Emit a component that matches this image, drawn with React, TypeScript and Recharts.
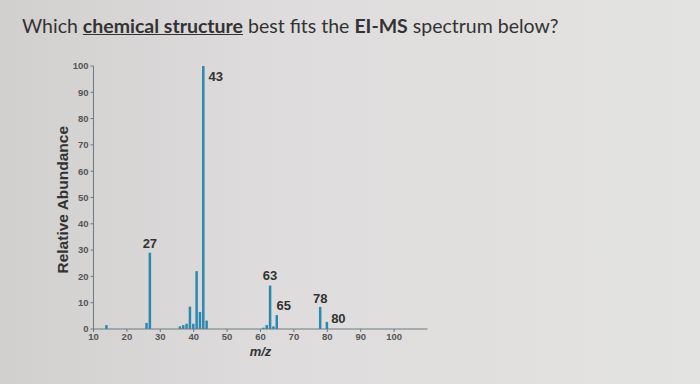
import React from 'react'
import { BarChart, Bar, XAxis, YAxis, LabelList } from 'recharts'

// peaks (m/z, relative abundance)
const MZ = [14, 26, 27, 36, 37, 38, 39, 40, 41, 42, 43, 44, 61, 62, 63, 64, 65, 78, 80]
const ABUNDANCE = [1.5, 2.3, 29, 1, 1.5, 2, 8.5, 2, 22, 6.5, 100, 3.2, 0.5, 1.5, 16.5, 1, 5.3, 8.4, 2.7]
const LABELLED = [27, 43, 63, 65, 78, 80]
const X_TICKS = [10, 20, 30, 40, 50, 60, 70, 80, 90, 100]
const Y_TICKS = [0, 10, 20, 30, 40, 50, 60, 70, 80, 90, 100]

const BAR_COLOR = '#2b88b1'

// where each peak label sits relative to the bar top
const LABEL_PLACE: Record<number, { dx: number; dy: number; anchor: string }> = {
  27: { dx: 0, dy: -5, anchor: 'middle' },
  43: { dx: 4, dy: 15, anchor: 'start' },
  63: { dx: 0, dy: -6, anchor: 'middle' },
  65: { dx: 7, dy: -5, anchor: 'middle' },
  78: { dx: 0, dy: -4, anchor: 'middle' },
  80: { dx: 3, dy: 1, anchor: 'start' }
}

const data = MZ.map((mz, i) => ({ mz, abundance: ABUNDANCE[i] }))

const PeakLabel = (props: any) => {
  const { x, y, width, value } = props
  if (!LABELLED.includes(value)) return null
  const p = LABEL_PLACE[value]
  const cx = p.anchor === 'start' ? x + width : x + width / 2
  return (
    <text
      x={cx + p.dx}
      y={y + p.dy}
      textAnchor={p.anchor}
      fontFamily="Arial, 'Liberation Sans', sans-serif"
      fontWeight={700}
      fontSize={13}
      fill="#333"
    >
      {value}
    </text>
  )
}

const tickStyle = {
  fontSize: 9.5,
  fontWeight: 700,
  fill: '#555',
  fontFamily: "Arial, 'Liberation Sans', sans-serif"
}

export default function App() {
  return (
    <div
      style={{
        position: 'absolute',
        left: 0,
        top: 0,
        width: 700,
        height: 384,
        overflow: 'hidden',
        background: 'linear-gradient(90deg, #d2cfcf 0%, #dedcdc 40%, #e3e3e1 100%)'
      }}
    >
      <div
        style={{
          position: 'absolute',
          left: 22,
          top: 14,
          fontFamily: 'Lato, sans-serif',
          fontSize: 19.5,
          color: '#333',
          whiteSpace: 'nowrap'
        }}
      >
        Which{' '}
        <span style={{ fontWeight: 700, textDecoration: 'underline' }}>chemical structure</span>{' '}
        best fits the <span style={{ fontWeight: 700 }}>EI-MS</span> spectrum below?
      </div>
      <div style={{ position: 'absolute', left: 0, top: 0 }}>
        <BarChart
          width={700}
          height={384}
          data={data}
          margin={{ top: 66, right: 272.5, bottom: 25, left: 53.5 }}
        >
          <XAxis
            dataKey="mz"
            type="number"
            domain={[10, 110]}
            ticks={X_TICKS}
            interval={0}
            tick={tickStyle}
            tickSize={3}
            tickMargin={1}
            stroke="#6f7a80"
            label={{
              value: 'm/z',
              position: 'insideBottom',
              offset: 3,
              style: {
                fontSize: 13,
                fontWeight: 700,
                fontStyle: 'italic',
                fill: '#333',
                fontFamily: "Arial, 'Liberation Sans', sans-serif"
              }
            }}
          />
          <YAxis
            type="number"
            domain={[0, 100]}
            ticks={Y_TICKS}
            interval={0}
            width={40}
            tick={tickStyle}
            tickSize={3}
            tickMargin={2}
            stroke="#6f7a80"
            label={{
              value: 'Relative Abundance',
              angle: -90,
              position: 'insideLeft',
              offset: 9,
              dy: 76,
              style: {
                fontSize: 15.5,
                fontWeight: 700,
                fill: '#333',
                fontFamily: "Arial, 'Liberation Sans', sans-serif"
              }
            }}
          />
          <Bar dataKey="abundance" fill={BAR_COLOR} barSize={2.5} isAnimationActive={false}>
            <LabelList dataKey="mz" content={PeakLabel} />
          </Bar>
        </BarChart>
      </div>
    </div>
  )
}
